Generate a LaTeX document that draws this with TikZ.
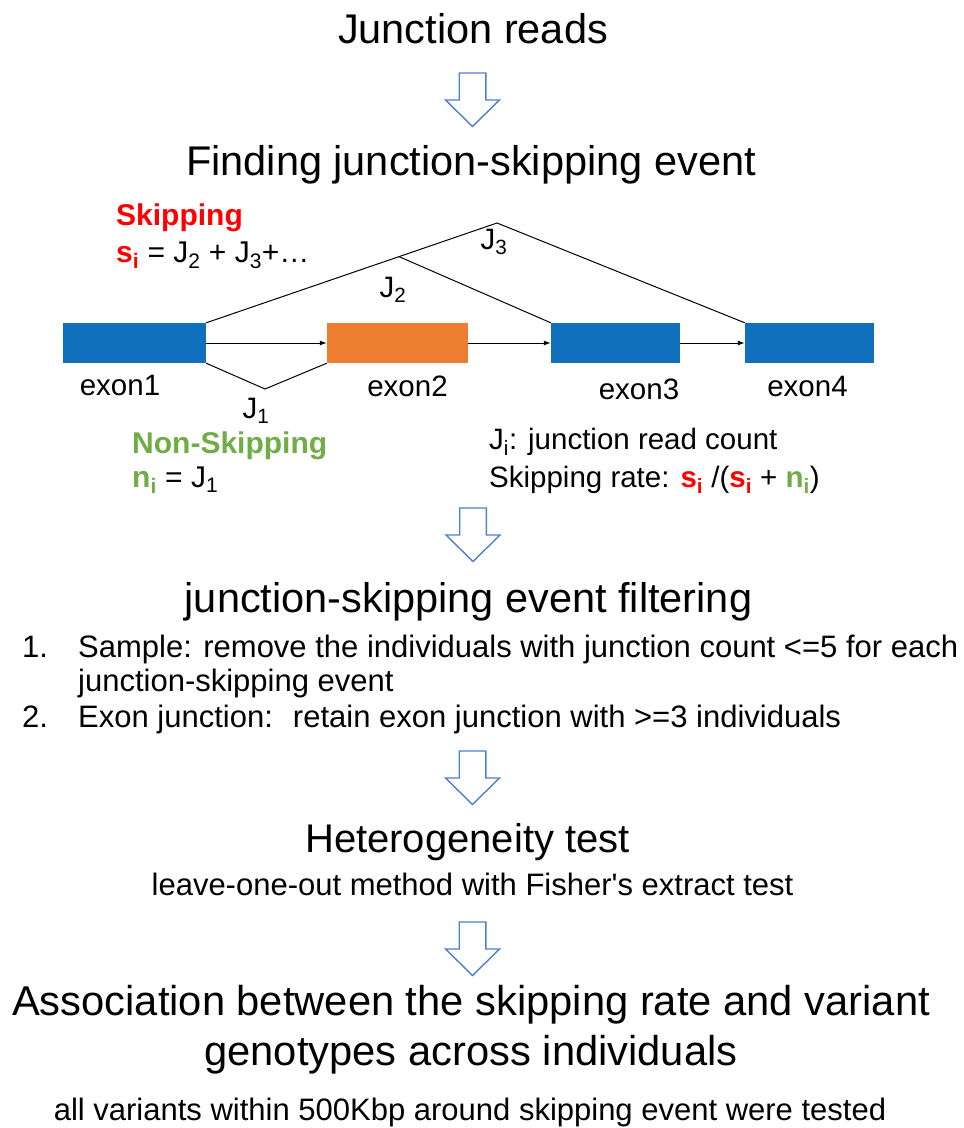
\documentclass[tikz,border=0pt]{standalone}
\usepackage{fontspec}
\setmainfont{Liberation Sans}
\usetikzlibrary{arrows.meta,calc}
\definecolor{exonblue}{HTML}{1170BE}
\definecolor{exonorange}{HTML}{ED7D31}
\definecolor{skipred}{HTML}{FF0000}
\definecolor{keepgreen}{HTML}{70AD47}
\definecolor{flowblue}{HTML}{4F7FD0}
\newcommand{\sizeat}[1]{\fontsize{#1}{#1}\selectfont}
\newcommand{\skipv}{\textcolor{skipred}{\textbf{s\textsubscript{i}}}}
\newcommand{\keepv}{\textcolor{keepgreen}{\textbf{n\textsubscript{i}}}}
\tikzset{
  txt/.style={inner sep=0pt, anchor=base},
  title/.style={txt, font=\sizeat{41.5}},
  small/.style={txt, font=\sizeat{30}},
  label/.style={txt, font=\sizeat{29.5}},
  exonbox/.style={minimum height=40pt, inner sep=0pt},
  junction/.style={line width=1pt},
  flow/.style={line width=1pt, -{Latex[length=7pt,width=5pt]}},
  flowarrow/.pic={
    \draw[flowblue, line width=1.4pt, line join=miter]
      (-13.3,0) -- (13.3,0) -- (13.3,27) -- (27,27) -- (0,53.5)
      -- (-27,27) -- (-13.3,27) -- cycle;
  }
}
\begin{document}
\begin{tikzpicture}[x=1pt,y=-1pt]
\useasboundingbox (0,0) rectangle (964,1128);

\node[title] (reads) at (473,43) {Junction reads};
\pic at (472.5,73) {flowarrow};
\node[title] (finding) at (471,175) {Finding junction-skipping event};

\node[exonbox, fill=exonblue, minimum width=143pt] (e1) at (134.5,343) {};
\node[exonbox, fill=exonorange, minimum width=141pt] (e2) at (397.5,343) {};
\node[exonbox, fill=exonblue, minimum width=129pt] (e3) at (615.5,343) {};
\node[exonbox, fill=exonblue, minimum width=129pt] (e4) at (809.5,343) {};
\coordinate (j1) at (265,389);
\coordinate (j3) at (497,223);
\coordinate (j2) at ($(e1.north east)!0.663!(j3)$);
\draw[junction] (e1.south east) -- (j1) -- (e2.south west);
\draw[junction] (e1.north east) -- (j3) -- (e4.north west);
\draw[junction] (j2) -- (e3.north west);
\draw[flow] (e1.east) -- (e2.west);
\draw[flow] (e2.east) -- (e3.west);
\draw[flow] (e3.east) -- (e4.west);

\node[label] (l1) at (120,395) {exon1};
\node[label] (l2) at (407.5,396.5) {exon2};
\node[label] (l3) at (639,399) {exon3};
\node[label] (l4) at (807.5,396.5) {exon4};
\node[label] (J1) at (256,418) {J\textsubscript{1}};
\node[label] (J2) at (393,297) {J\textsubscript{2}};
\node[label] (J3) at (494,249) {J\textsubscript{3}};

\node[small, anchor=base west, text=skipred, font=\sizeat{30}\bfseries] (skiphead) at (116,225) {Skipping};
\node[small, anchor=base west] (skipsum) at (116,262) {\skipv{} = J\textsubscript{2} + J\textsubscript{3}+…};
\node[small, anchor=base west, text=keepgreen, font=\sizeat{30}\bfseries] (keephead) at (132,453) {Non-Skipping};
\node[small, anchor=base west] (keepsum) at (132,487) {\keepv{} = J\textsubscript{1}};
\node[label, anchor=base west] (countdef) at (489,449) {J\textsubscript{i}: junction read count};
\node[label, anchor=base west] (ratedef) at (489,487) {Skipping rate: \skipv{} /(\skipv{} + \keepv)};

\pic at (473,508) {flowarrow};
\node[title] (filter) at (468.5,612) {junction-skipping event filtering};
\node[small, anchor=base west, font=\sizeat{31}] (n1) at (22,657) {1.};
\node[small, anchor=base west, font=\sizeat{31}] (rule1) at (78,657) {Sample: remove the individuals with junction count <=5 for each};
\node[small, anchor=base west, font=\sizeat{31}] (rule1b) at (78,691) {junction-skipping event};
\node[small, anchor=base west, font=\sizeat{31}] (n2) at (22,727) {2.};
\node[small, anchor=base west, font=\sizeat{31}] (rule2) at (78,727) {Exon junction: \ retain exon junction with >=3 individuals};

\pic at (472.5,751) {flowarrow};
\node[title, font=\sizeat{40}] (hetero) at (467.5,852) {Heterogeneity test};
\node[small, font=\sizeat{31}] (fisher) at (472.5,895) {leave-one-out method with Fisher\textquotesingle s extract test};

\pic at (472.5,922) {flowarrow};
\node[title, font=\sizeat{41.7}] (assoc1) at (471,1015) {Association between the skipping rate and variant};
\node[title, font=\sizeat{41.7}] (assoc2) at (471,1065) {genotypes across individuals};
\node[small, font=\sizeat{31}] (tested) at (470,1120) {all variants within 500Kbp around skipping event were tested};
\end{tikzpicture}
\end{document}
